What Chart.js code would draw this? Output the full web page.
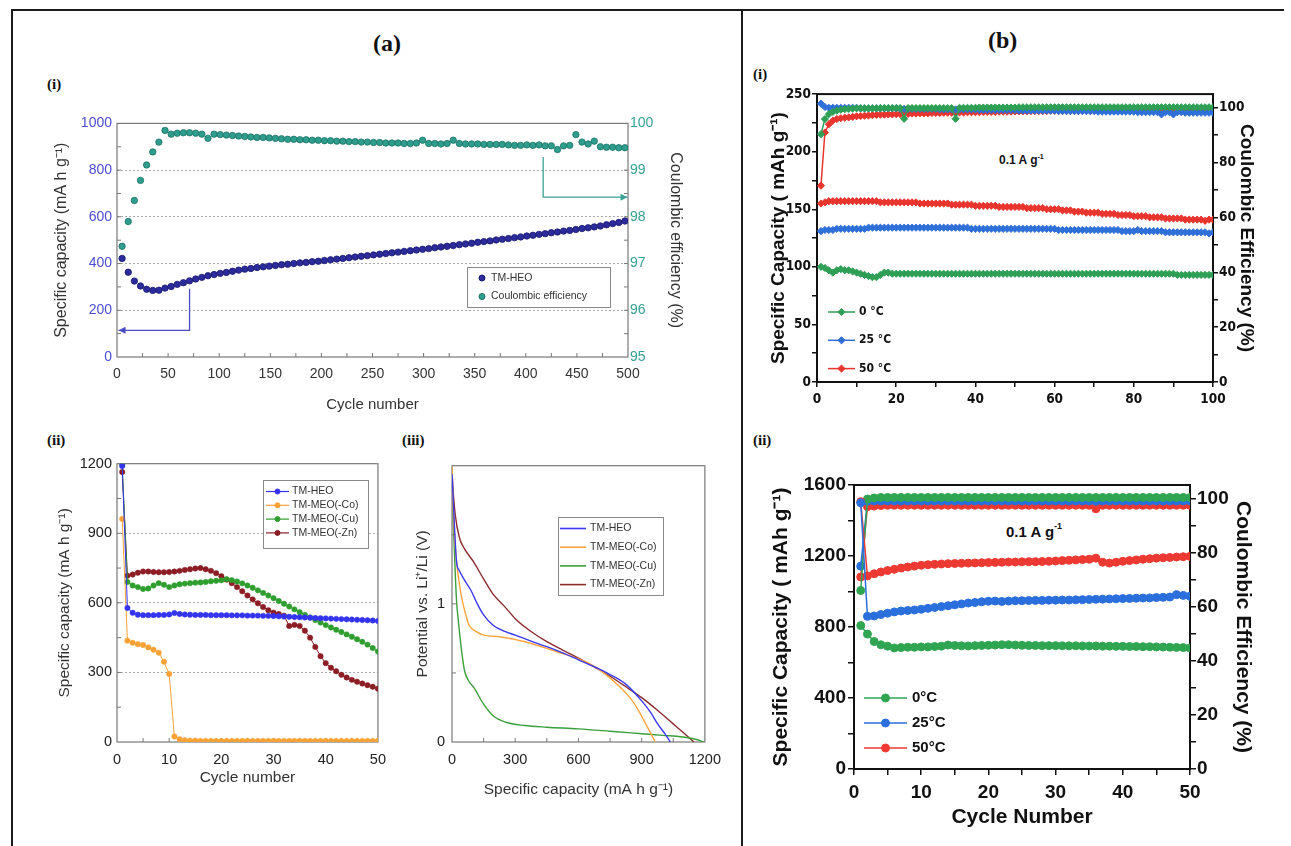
<!DOCTYPE html>
<html>
<head>
<meta charset="utf-8">
<title>TM-HEO cycling</title>
<script src="https://cdn.jsdelivr.net/npm/chart.js@4.4.0/dist/chart.umd.min.js"></script>
<style>
  body { margin: 0; background: #fff; width: 1291px; height: 846px; position: relative; overflow: hidden; }
  canvas { position: absolute; }
  .rule { position: absolute; background: #1a1a1a; }
  .tag { position: absolute; font-family: 'Liberation Serif', 'Times New Roman', serif; font-weight: bold; color: #111; line-height: 1; }
  .note { position: absolute; font-weight: bold; color: #111; line-height: 1; white-space: nowrap; }
  .note sup { font-size: 0.6em; position: relative; top: -0.2em; vertical-align: top; }
</style>
</head>
<body>
<div class="rule" style="left:12px;top:9px;width:1272px;height:2px"></div>
<div class="rule" style="left:11px;top:9px;width:2px;height:837px"></div>
<div class="rule" style="left:741px;top:9px;width:2px;height:837px"></div>

<div class="tag" style="left:373px;top:31px;font-size:24px">(a)</div>
<div class="tag" style="left:988px;top:28px;font-size:24px">(b)</div>
<div class="tag" style="left:47px;top:77px;font-size:15px">(i)</div>
<div class="tag" style="left:47px;top:433px;font-size:15px">(ii)</div>
<div class="tag" style="left:402px;top:433px;font-size:15px">(iii)</div>
<div class="tag" style="left:753px;top:67px;font-size:15px">(i)</div>
<div class="tag" style="left:753px;top:433px;font-size:15px">(ii)</div>

<div class="note" style="left:999px;top:154px;font-size:12px;font-family:'Liberation Sans Narrow','Arial Narrow',sans-serif">0.1 A g<sup>-1</sup></div>
<div class="note" style="left:1006px;top:524px;font-size:15px;font-family:'Liberation Sans',Arial,sans-serif">0.1 A g<sup>-1</sup></div>

<canvas id="cA1"></canvas>
<canvas id="cA2"></canvas>
<canvas id="cA3"></canvas>
<canvas id="cB1"></canvas>
<canvas id="cB2"></canvas>

<script>
// ---- (a)(i) long cycling of TM-HEO, one point every 6 cycles ----
const cyclesA1 = [];
for (let c = 5; c <= 497; c += 6) cyclesA1.push(c);
const capacityA1 = [422,363,325,304,290,285,286,295,302,311,
  318,326,334,341,348,353,358,362,367,372,
  376,379,383,386,389,392,395,397,400,403,
  405,408,410,413,416,419,422,425,428,431,
  434,437,440,443,446,449,452,455,458,461,
  464,468,471,474,477,481,484,487,491,494,
  497,501,504,507,511,514,518,521,525,528,
  532,535,539,542,546,550,553,557,561,566,
  571,576,582];
const efficiencyA1 = [97.37,97.9,98.35,98.78,99.11,99.39,99.6,99.85,99.77,99.79,
  99.8,99.8,99.79,99.77,99.68,99.77,99.76,99.75,99.74,99.73,
  99.72,99.71,99.7,99.7,99.69,99.68,99.67,99.66,99.66,99.65,
  99.65,99.64,99.64,99.63,99.63,99.62,99.62,99.61,99.61,99.6,
  99.6,99.59,99.59,99.58,99.58,99.58,99.57,99.57,99.58,99.64,
  99.57,99.57,99.56,99.57,99.64,99.57,99.56,99.56,99.56,99.55,
  99.55,99.55,99.55,99.54,99.53,99.53,99.54,99.53,99.54,99.52,
  99.52,99.44,99.52,99.53,99.76,99.6,99.56,99.62,99.5,99.49,
  99.49,99.48,99.48];

// ---- (a)(ii) first 50 cycles of the four oxides ----
const heoA2 = [1190,578,557,549,547,547,547,548,548,550,
  556,552,550,549,548,548,548,547,547,547,
  547,546,546,546,545,545,545,544,544,543,
  542,541,540,539,538,537,536,535,534,533,
  532,531,530,529,528,527,526,525,524,522];
const coA2 = [962,437,428,422,418,408,398,385,346,293,
  24,12,8,6,6,5,5,5,5,5,
  5,5,5,5,5,5,5,5,5,5,
  5,5,5,5,5,5,5,5,5,5,
  5,5,5,5,5,5,5,5,5,5];
const cuA2 = [1195,690,675,668,660,662,675,685,678,668,
  675,680,683,685,687,688,690,693,695,697,
  702,698,692,684,675,665,654,643,632,620,
  608,596,584,572,560,548,537,526,515,504,
  494,484,474,464,454,443,432,420,405,390];
const znA2 = [1164,717,722,730,735,735,733,732,732,733,
  735,738,742,745,748,750,745,738,728,715,
  700,685,668,650,632,615,598,582,568,558,
  552,545,500,505,500,480,450,410,370,340,
  320,305,290,278,268,260,252,245,238,230];

// ---- (a)(iii) discharge profiles: capacity (mA h/g) vs potential (V) ----
const heoCap = [0,3,12,22,35,60,89,120,150,195,250,300,375,450,525,600,675,750,826,900,940,976,1010,1036];
const heoV   = [1.94,1.85,1.55,1.3,1.24,1.17,1.1,1.0,0.92,0.845,0.8,0.774,0.73,0.69,0.645,0.595,0.545,0.488,0.417,0.298,0.22,0.131,0.06,0];
const coCap  = [0,4,14,28,44,62,81,104,150,225,345,495,646,720,796,850,886,930,965];
const coV    = [2.0,1.75,1.44,1.22,1.06,0.94,0.845,0.81,0.774,0.762,0.726,0.655,0.572,0.5,0.4,0.31,0.226,0.1,0];
const cuCap  = [0,4,10,16,22,30,37,48,60,80,104,150,195,255,345,450,600,750,900,1000,1095,1160,1193];
const cuV    = [1.99,1.7,1.44,1.2,1.012,0.88,0.774,0.63,0.512,0.44,0.393,0.274,0.19,0.143,0.119,0.107,0.095,0.078,0.06,0.048,0.036,0.018,0];
const znCap  = [0,4,15,35,59,104,150,195,250,300,375,450,525,600,675,750,825,900,975,1050,1100,1148];
const znV    = [1.96,1.85,1.65,1.48,1.4,1.3,1.18,1.07,0.98,0.893,0.8,0.726,0.665,0.607,0.543,0.476,0.4,0.321,0.23,0.131,0.065,0];

// ---- (b)(i) 100 cycles at three temperatures ----
const cap0B1 = [100,99,97,95,97,98,97,97,96,95,
  94,93,92,91,91,93,95,95,94,94,
  94,94,94,94,94,94,94,94,94,94,
  94,94,94,94,94,94,94,94,94,94,
  94,94,94,94,94,94,94,94,94,94,
  94,94,94,94,94,94,94,94,94,94,
  94,94,94,94,94,94,94,94,94,94,
  94,94,94,94,94,94,94,94,94,94,
  94,94,94,94,94,94,94,94,94,94,
  93,93,93,93,93,93,93,93,93,93];
const cap25B1 = [131,132,132,132,133,133,133,133,133,133,
  133,133,134,134,134,134,134,134,134,134,
  134,134,134,134,134,134,134,134,134,134,
  134,134,134,134,134,134,134,134,133,133,
  133,133,133,133,133,133,133,133,133,133,
  133,133,133,133,133,133,133,133,133,133,
  132,132,132,132,132,132,132,132,132,132,
  132,132,132,132,132,132,131,131,131,131,
  132,131,131,131,131,131,131,130,130,130,
  130,130,130,130,130,130,130,130,129,130];
const cap50B1 = [155,156,157,157,157,157,157,157,157,157,
  157,157,157,157,157,156,156,156,156,156,
  156,156,156,156,156,155,155,155,155,155,
  155,155,155,154,154,154,154,154,154,153,
  153,153,153,153,153,152,152,152,152,152,
  152,152,151,151,151,151,151,150,150,150,
  150,149,149,149,148,148,148,147,147,147,
  147,146,146,146,146,145,145,145,145,144,
  144,144,144,143,143,143,143,142,142,142,
  142,142,141,141,141,141,141,140,141,141];
const ce0B1 = [90.4,95.9,97.7,98.5,99,99.3,99.5,99.6,99.7,99.8,
  99.8,99.8,99.8,99.8,99.8,99.9,99.9,99.9,99.9,99.9,
  99.9,96,99.9,99.9,99.9,99.9,99.9,99.9,99.9,99.9,
  99.9,99.9,99.9,99.9,96,100,100,100,100,100,
  100.1,100.1,100.1,100.1,100.1,100.1,100.1,100.1,100.1,100.1,
  100.2,100.2,100.2,100.2,100.2,100.2,100.2,100.2,100.2,100.2,
  100.2,100.2,100.2,100.2,100.2,100.2,100.2,100.2,100.2,100.2,
  100.2,100.2,100.2,100.2,100.2,100.2,100.2,100.2,100.2,100.2,
  100.2,100.2,100.2,100.2,100.2,100.2,100.2,100.2,100.2,100.2,
  100.2,100.2,100.2,100.2,100.2,100.2,100.2,100.2,100.2,100.2];
const ce25B1 = [101.5,100.3,100,100,100,100,100,100,100,100,
  99.8,99.8,99.8,99.8,99.8,99.8,99.8,99.8,99.8,99.8,
  99.6,99.6,99.6,99.6,99.6,99.6,99.6,99.6,99.6,99.6,
  99.4,99.4,99.4,99.4,99.4,99.4,99.4,99.4,99.4,99.4,
  99.2,99.2,99.2,99.2,99.2,99.2,99.2,99.2,99.2,99.2,
  99,99,99,99,99,99,99,99,99,99,
  98.8,98.8,98.8,98.8,98.8,98.8,98.8,98.8,98.8,98.8,
  98.6,98.6,98.6,98.6,98.6,98.6,98.6,98.6,98.6,98.6,
  98.4,98.4,98.4,98.4,98.4,98.4,97.6,98.4,98.4,97.6,
  98.4,98.4,98.2,98.2,98.2,98.2,98.2,98.2,98.2,98.2];
const ce50B1 = [71.6,91,94,95.3,95.9,96.2,96.4,96.5,96.7,96.9,
  97,97.1,97.2,97.3,97.4,97.5,97.5,97.6,97.6,97.7,
  97.7,97.8,97.8,97.9,97.9,98,98,98,98.1,98.1,
  98.1,98.2,98.2,98.2,98.3,98.3,98.3,98.4,98.4,98.4,
  98.4,98.5,98.5,98.5,98.5,98.6,98.6,98.6,98.6,98.7,
  98.7,98.7,98.7,98.8,98.8,98.8,98.8,98.8,98.9,98.9,
  98.9,98.9,98.9,99,99,99,99,99,99,99,
  99.1,99.1,99.1,99.1,99.1,99.1,99.2,99.2,99.2,99.2,
  99.2,99.2,99.2,99.3,99.3,99.3,99.3,99.3,99.3,99.3,
  99.3,99.3,99.4,99.4,99.4,99.4,99.4,99.4,99.4,99.4];

// ---- (b)(ii) 50 cycles at three temperatures ----
const cap0B2 = [808,760,718,700,692,682,684,686,686,688,
  688,690,692,698,696,694,693,695,696,697,
  698,700,700,698,697,696,696,695,695,695,
  694,694,694,693,693,693,692,692,691,691,
  690,690,689,689,688,687,686,685,684,682];
const cap25B2 = [1500,860,862,870,878,885,890,893,896,900,
  905,910,915,920,925,930,935,938,942,945,
  946,944,946,948,948,949,950,950,951,951,
  952,952,953,954,955,956,957,958,959,960,
  961,962,963,964,966,967,969,982,978,973];
const cap50B2 = [1506,1088,1100,1110,1118,1125,1132,1138,1143,1148,
  1151,1153,1155,1157,1158,1159,1160,1161,1162,1163,
  1164,1165,1166,1166,1167,1168,1168,1169,1170,1172,
  1174,1176,1178,1180,1182,1188,1165,1160,1165,1170,
  1174,1178,1182,1185,1188,1190,1192,1194,1196,1198];
const ce0B2 = [66,99.8,100.2,100.4,100.4,100.4,100.4,100.4,100.4,100.4,
  100.4,100.4,100.4,100.4,100.4,100.4,100.4,100.4,100.4,100.4,
  100.4,100.4,100.4,100.4,100.4,100.4,100.4,100.4,100.4,100.4,
  100.4,100.4,100.4,100.4,100.4,100.4,100.4,100.4,100.4,100.4,
  100.4,100.4,100.4,100.4,100.4,100.4,100.4,100.4,100.4,100.4];
const ce25B2 = [75,99,99.1,99.1,99.1,99.1,99.1,99.1,99.1,99.1,
  99.1,99.1,99.1,99.1,99.1,99.1,99.1,99.1,99.1,99.1,
  99.1,99.1,99.1,99.1,99.1,99.1,99.1,99.1,99.1,99.1,
  99.1,99.1,99.1,99.1,99.1,99,99.1,99.1,99.1,99.1,
  99.1,99.1,99.1,99.1,99.1,99.1,99.1,99.1,99.1,99.1];
const ce50B2 = [71,97,97.2,97.4,97.5,97.5,97.5,97.5,97.5,97.5,
  97.5,97.5,97.5,97.5,97.5,97.5,97.5,97.5,97.5,97.5,
  97.5,97.5,97.5,97.5,97.5,97.5,97.5,97.5,97.5,97.5,
  97.5,97.5,97.5,97.5,97.5,96.2,97.5,97.5,97.5,97.5,
  97.5,97.5,97.5,97.5,97.5,97.5,97.5,97.5,97.5,97.5];

const SANS = "'Liberation Sans', Arial, Helvetica, sans-serif";
const NARROW = "'Liberation Sans Narrow', 'Arial Narrow', 'DejaVu Sans Condensed', sans-serif";

Chart.defaults.font.family = SANS;
Chart.defaults.animation = false;
Chart.defaults.events = [];
Chart.defaults.plugins.legend.display = false;
Chart.defaults.plugins.tooltip.enabled = false;

const xy = (xs, ys) => xs.map((x, i) => ({ x, y: ys[i] }));
const byCycle = ys => ys.map((y, i) => ({ x: i + 1, y }));
const plain = v => String(v);

function place(id, box) {
  const c = document.getElementById(id);
  c.width = box.right - box.left;
  c.height = box.bottom - box.top;
  c.style.left = box.left + 'px';
  c.style.top = box.top + 'px';
  return c;
}

// plot box outline plus optional short inward tick marks
const frame = {
  id: 'frame',
  beforeDatasetsDraw(chart, args, o) {
    const a = chart.chartArea, ctx = chart.ctx;
    ctx.save();
    ctx.strokeStyle = o.color || '#000';
    ctx.lineWidth = o.width || 1;
    ctx.strokeRect(a.left, a.top, a.right - a.left, a.bottom - a.top);
    const len = o.tickLen || 4;
    ctx.lineWidth = 1;
    (o.inner || []).forEach(([id, step]) => {
      const s = chart.scales[id];
      for (let v = s.min + step; v < s.max - step / 10; v += step) {
        const p = s.getPixelForValue(v);
        ctx.beginPath();
        if (id === 'x') { ctx.moveTo(p, a.bottom); ctx.lineTo(p, a.bottom - len); }
        else if (s.position === 'right') { ctx.moveTo(a.right, p); ctx.lineTo(a.right - len, p); }
        else { ctx.moveTo(a.left, p); ctx.lineTo(a.left + len, p); }
        ctx.stroke();
      }
    });
    ctx.restore();
  }
};

// legend drawn inside the plot, page coordinates shifted by the canvas origin
const insetLegend = {
  id: 'insetLegend',
  afterDraw(chart, args, o) {
    if (!o.rows) return;
    const ctx = chart.ctx;
    const ox = o.org[0], oy = o.org[1];
    ctx.save();
    if (o.box) {
      ctx.fillStyle = '#fff';
      ctx.fillRect(o.box[0] - ox, o.box[1] - oy, o.box[2], o.box[3]);
      ctx.strokeStyle = '#8a8a8a';
      ctx.lineWidth = 1;
      ctx.strokeRect(o.box[0] - ox + 0.5, o.box[1] - oy + 0.5, o.box[2], o.box[3]);
    }
    ctx.font = o.font;
    ctx.textBaseline = 'middle';
    o.rows.forEach((di, i) => {
      const ds = chart.data.datasets[di];
      const x = o.x - ox, y = o.y - oy + i * o.gap;
      const len = o.line || 0;
      if (len) {
        ctx.strokeStyle = ds.borderColor;
        ctx.lineWidth = o.lineWidth || 1.5;
        ctx.beginPath();
        ctx.moveTo(x, y);
        ctx.lineTo(x + len, y);
        ctx.stroke();
      }
      if (o.marker) {
        ctx.fillStyle = ds.pointBackgroundColor;
        ctx.strokeStyle = ds.pointBorderColor;
        ctx.lineWidth = 1;
        Chart.helpers.drawPoint(ctx, { pointStyle: ds.pointStyle || 'circle', radius: o.marker, borderWidth: 1, rotation: 0 }, x + len / 2, y);
      }
      ctx.fillStyle = o.color || '#222';
      ctx.fillText(ds.label, x + len + o.textGap, y);
    });
    ctx.restore();
  }
};
Chart.register(frame, insetLegend);

// elbow arrows pointing each series to its own axis
const guideArrows = {
  id: 'guideArrows',
  afterDatasetsDraw(chart) {
    const { ctx, scales: { x, y, y1 } } = chart;
    const elbow = (pts, color, dir) => {
      ctx.save();
      ctx.strokeStyle = color;
      ctx.fillStyle = color;
      ctx.lineWidth = 1.3;
      ctx.beginPath();
      ctx.moveTo(pts[0][0], pts[0][1]);
      pts.slice(1).forEach(p => ctx.lineTo(p[0], p[1]));
      ctx.stroke();
      const [ex, ey] = pts[pts.length - 1];
      ctx.beginPath();
      ctx.moveTo(ex, ey);
      ctx.lineTo(ex - dir * 7, ey - 3.5);
      ctx.lineTo(ex - dir * 7, ey + 3.5);
      ctx.closePath();
      ctx.fill();
      ctx.restore();
    };
    const bx = x.getPixelForValue(71), by = y.getPixelForValue(114);
    elbow([[bx, y.getPixelForValue(292)], [bx, by], [x.getPixelForValue(1.5), by]], '#4b4bc6', -1);
    const tx = x.getPixelForValue(417), ty = y1.getPixelForValue(98.42);
    elbow([[tx, y1.getPixelForValue(99.28)], [tx, ty], [x.getPixelForValue(499.5), ty]], '#3aa394', 1);
  }
};

const tickMarks = { drawOnChartArea: false, tickLength: 5, color: '#111', lineWidth: 1.5 };
const noGrid = { display: false, drawTicks: false };

// ---------- (a)(i) ----------
const A1 = { left: 40, top: 110, right: 700, bottom: 420 };
new Chart(place('cA1', A1), {
  type: 'scatter',
  data: {
    datasets: [
      { label: 'TM-HEO', data: xy(cyclesA1, capacityA1), yAxisID: 'y',
        pointRadius: 3.2, pointBackgroundColor: '#2b2b9c', pointBorderColor: '#1a1a70', pointBorderWidth: 0.8 },
      { label: 'Coulombic efficiency', data: xy(cyclesA1, efficiencyA1), yAxisID: 'y1',
        pointRadius: 3.2, pointBackgroundColor: '#2e9d8d', pointBorderColor: '#1c7264', pointBorderWidth: 0.8 }
    ]
  },
  options: {
    responsive: false,
    layout: { padding: { top: 11 } },
    scales: {
      x: { type: 'linear', min: 0, max: 500, afterFit: s => { s.height = 63; },
        ticks: { stepSize: 50, color: '#333', font: { size: 14 }, padding: 9, maxRotation: 0, callback: plain },
        grid: noGrid, border: { display: false },
        title: { display: true, text: 'Cycle number', color: '#333', font: { size: 15 }, padding: { bottom: 6 } } },
      y: { position: 'left', min: 0, max: 1000, afterFit: s => { s.width = 77; },
        ticks: { stepSize: 200, color: '#4c4cd2', font: { size: 14 }, padding: 5, callback: plain },
        grid: { drawTicks: false, color: c => (c.tick.value > 0 && c.tick.value < 1000) ? '#a8a8a8' : 'rgba(0,0,0,0)' },
        border: { display: false, dash: [2, 2] },
        title: { display: true, text: 'Specific capacity (mA h g⁻¹)', color: '#333', font: { size: 16 }, padding: { top: 12 } } },
      y1: { position: 'right', min: 95, max: 100, afterFit: s => { s.width = 72; },
        ticks: { stepSize: 1, color: '#34a192', font: { size: 14 }, padding: 2, callback: plain },
        grid: noGrid, border: { display: false },
        title: { display: true, text: 'Coulombic efficiency (%)', color: '#333', font: { size: 16 }, padding: { top: 15 } } }
    },
    plugins: {
      frame: { color: '#787878', width: 1.2, tickLen: 4, inner: [['x', 25], ['y', 100], ['y1', 0.5]] },
      insetLegend: { org: [A1.left, A1.top], box: [467, 267, 143, 40], rows: [0, 1], x: 482, y: 278, gap: 18.5,
        marker: 3, textGap: 9, font: '10.5px ' + SANS, color: '#333' }
    }
  },
  plugins: [guideArrows]
});

// ---------- (a)(ii) ----------
const A2 = { left: 40, top: 450, right: 395, bottom: 810 };
const a2Series = (label, color, values) => ({
  label, data: byCycle(values), borderColor: color, backgroundColor: color,
  pointBackgroundColor: color, pointBorderColor: color, pointRadius: 2.7, borderWidth: 1, pointBorderWidth: 0.5
});
new Chart(place('cA2', A2), {
  type: 'line',
  data: {
    datasets: [
      a2Series('TM-HEO', '#3434f0', heoA2),
      a2Series('TM-MEO(-Co)', '#f8a236', coA2),
      a2Series('TM-MEO(-Cu)', '#2f9e2f', cuA2),
      a2Series('TM-MEO(-Zn)', '#8c1d24', znA2)
    ]
  },
  options: {
    responsive: false,
    layout: { padding: { top: 12 } },
    scales: {
      x: { type: 'linear', min: 0, max: 50, afterFit: s => { s.height = 68; },
        ticks: { stepSize: 10, color: '#222', font: { size: 14.5 }, padding: 9, maxRotation: 0, callback: plain },
        grid: noGrid, border: { display: false },
        title: { display: true, text: 'Cycle number', color: '#333', font: { size: 15.5 }, padding: { bottom: 23 } } },
      y: { min: 0, max: 1200, afterFit: s => { s.width = 77; },
        ticks: { stepSize: 300, color: '#222', font: { size: 14.5 }, padding: 5, callback: plain },
        grid: { drawTicks: false, color: c => (c.tick.value > 0 && c.tick.value < 1200) ? '#a8a8a8' : 'rgba(0,0,0,0)' },
        border: { display: false, dash: [2, 2] },
        title: { display: true, text: 'Specific capacity (mA h g⁻¹)', color: '#333', font: { size: 15.5 }, padding: { top: 15 } } }
    },
    plugins: {
      frame: { color: '#787878', width: 1.2, tickLen: 4, inner: [['x', 5], ['y', 150]] },
      insetLegend: { org: [A2.left, A2.top], box: [263, 480, 105, 68], rows: [0, 1, 2, 3], x: 266, y: 491.5, gap: 13.8,
        line: 23, lineWidth: 1.2, marker: 2.5, textGap: 3, font: '10.5px ' + SANS, color: '#333' }
    }
  }
});

// ---------- (a)(iii) ----------
const A3 = { left: 400, top: 450, right: 730, bottom: 810 };
const curve = (label, color, xs, ys) => ({
  label, data: xy(xs, ys), showLine: true, borderColor: color, backgroundColor: color,
  pointRadius: 0, borderWidth: 1.4, cubicInterpolationMode: 'monotone'
});
new Chart(place('cA3', A3), {
  type: 'scatter',
  data: {
    datasets: [
      curve('TM-HEO', '#3a3af2', heoCap, heoV),
      curve('TM-MEO(-Co)', '#fda53d', coCap, coV),
      curve('TM-MEO(-Cu)', '#3a9f3a', cuCap, cuV),
      curve('TM-MEO(-Zn)', '#8b2c2f', znCap, znV)
    ]
  },
  options: {
    responsive: false,
    layout: { padding: { top: 11 } },
    scales: {
      x: { type: 'linear', min: 0, max: 1200, afterFit: s => { s.height = 68; },
        ticks: { stepSize: 300, color: '#222', font: { size: 14.5 }, padding: 9, maxRotation: 0, callback: plain },
        grid: noGrid, border: { display: false },
        title: { display: true, text: 'Specific capacity (mA h g⁻¹)', color: '#333', font: { size: 15.5 }, padding: { bottom: 11 } } },
      y: { min: 0, max: 2, afterFit: s => { s.width = 52; },
        ticks: { stepSize: 1, color: '#222', font: { size: 14.5 }, padding: 7, callback: v => v < 2 ? String(v) : '' },
        grid: noGrid, border: { display: false },
        title: { display: true, text: 'Potential vs. Li⁺/Li (V)', color: '#333', font: { size: 15.5 }, padding: { top: 13 } } }
    },
    plugins: {
      frame: { color: '#787878', width: 1.2, tickLen: 4, inner: [['x', 150], ['y', 0.5]] },
      insetLegend: { org: [A3.left, A3.top], box: [558, 517, 105, 78], rows: [0, 1, 2, 3], x: 560, y: 528.5, gap: 18.7,
        line: 26, lineWidth: 1.6, textGap: 4, font: '10.5px ' + SANS, color: '#333' }
    }
  }
});

// ---------- (b)(i) ----------
const B1 = { left: 765, top: 85, right: 1270, bottom: 415 };
const bSeries = (label, color, values, axis, style, radius) => ({
  label, data: byCycle(values), yAxisID: axis, borderColor: color, backgroundColor: color,
  pointBackgroundColor: color, pointBorderColor: color, pointStyle: style, pointRadius: radius,
  borderWidth: 1.5, pointBorderWidth: 1
});
const boldNarrow = { family: NARROW, size: 13.5, weight: 'bold' };
new Chart(place('cB1', B1), {
  type: 'line',
  data: {
    datasets: [
      bSeries('0 °C', '#2e9f55', cap0B1, 'y', 'rectRot', 3.6),
      bSeries('25 °C', '#2f6fd8', cap25B1, 'y', 'rectRot', 3.6),
      bSeries('50 °C', '#e8352e', cap50B1, 'y', 'rectRot', 3.6),
      bSeries('0 °C', '#2e9f55', ce0B1, 'y1', 'rectRot', 3.6),
      bSeries('25 °C', '#2f6fd8', ce25B1, 'y1', 'rectRot', 3.6),
      bSeries('50 °C', '#e8352e', ce50B1, 'y1', 'rectRot', 3.6)
    ]
  },
  options: {
    responsive: false,
    layout: { padding: { top: 8 } },
    scales: {
      x: { type: 'linear', min: 0, max: 100, afterFit: s => { s.height = 33; },
        ticks: { stepSize: 10, autoSkip: false, maxRotation: 0, color: '#111', font: boldNarrow, padding: 4,
          callback: v => v % 20 === 0 ? String(v) : '' },
        grid: tickMarks, border: { display: false } },
      y: { min: 0, max: 250, afterFit: s => { s.width = 52; },
        ticks: { stepSize: 25, autoSkip: false, color: '#111', font: boldNarrow, padding: 1,
          callback: v => v % 50 === 0 ? String(v) : '' },
        grid: tickMarks, border: { display: false },
        title: { display: true, text: 'Specific Capacity ( mAh g⁻¹)', color: '#111', font: { size: 19, weight: 'bold' }, padding: { top: 2 } } },
      y1: { position: 'right', min: 0, max: 105, afterFit: s => { s.width = 57; },
        ticks: { stepSize: 10, includeBounds: false, autoSkip: false, color: '#111', font: boldNarrow, padding: 1,
          callback: v => v % 20 === 0 ? String(v) : '' },
        grid: tickMarks, border: { display: false },
        title: { display: true, text: 'Coulombic Efficiency (%)', color: '#111', font: { size: 19, weight: 'bold' }, padding: { top: 12 } } }
    },
    plugins: {
      frame: { color: '#111', width: 2 },
      insetLegend: { org: [B1.left, B1.top], rows: [0, 1, 2], x: 828, y: 312, gap: 28.3,
        line: 27, lineWidth: 1.5, marker: 3.6, textGap: 4, font: 'bold 12px ' + NARROW, color: '#111' }
    }
  }
});

// ---------- (b)(ii) ----------
const B2 = { left: 765, top: 470, right: 1275, bottom: 840 };
const boldSans = { size: 19, weight: 'bold' };
new Chart(place('cB2', B2), {
  type: 'line',
  data: {
    datasets: [
      bSeries('0°C', '#2fa552', cap0B2, 'y', 'circle', 4),
      bSeries('25°C', '#2a6fdc', cap25B2, 'y', 'circle', 4),
      bSeries('50°C', '#ec3a33', cap50B2, 'y', 'circle', 4),
      bSeries('0°C', '#2fa552', ce0B2, 'y1', 'circle', 4),
      bSeries('25°C', '#2a6fdc', ce25B2, 'y1', 'circle', 4),
      bSeries('50°C', '#ec3a33', ce50B2, 'y1', 'circle', 4)
    ]
  },
  options: {
    responsive: false,
    layout: { padding: { top: 15 } },
    scales: {
      x: { type: 'linear', min: 0, max: 50, afterFit: s => { s.height = 71; },
        ticks: { stepSize: 5, autoSkip: false, maxRotation: 0, color: '#111', font: boldSans, padding: 6,
          callback: v => v % 10 === 0 ? String(v) : '' },
        grid: { ...tickMarks, tickLength: 6 }, border: { display: false },
        title: { display: true, text: 'Cycle Number', color: '#111', font: { size: 21, weight: 'bold' }, padding: { bottom: 10 } } },
      y: { min: 0, max: 1600, afterFit: s => { s.width = 89; },
        ticks: { stepSize: 200, autoSkip: false, color: '#111', font: boldSans, padding: 2,
          callback: v => v % 400 === 0 ? String(v) : '' },
        grid: { ...tickMarks, tickLength: 6 }, border: { display: false },
        title: { display: true, text: 'Specific Capacity ( mAh g⁻¹)', color: '#111', font: { size: 21, weight: 'bold' }, padding: { top: 4 } } },
      y1: { position: 'right', min: 0, max: 105, afterFit: s => { s.width = 85; },
        ticks: { stepSize: 10, includeBounds: false, autoSkip: false, color: '#111', font: boldSans, padding: 1,
          callback: v => v % 20 === 0 ? String(v) : '' },
        grid: { ...tickMarks, tickLength: 6 }, border: { display: false },
        title: { display: true, text: 'Coulombic Efficiency (%)', color: '#111', font: { size: 21, weight: 'bold' }, padding: { top: 20 } } }
    },
    plugins: {
      frame: { color: '#111', width: 2 },
      insetLegend: { org: [B2.left, B2.top], rows: [0, 1, 2], x: 864, y: 698, gap: 25,
        line: 43, lineWidth: 1.5, marker: 4, textGap: 5, font: 'bold 15px ' + SANS, color: '#111' }
    }
  }
});
</script>
</body>
</html>
